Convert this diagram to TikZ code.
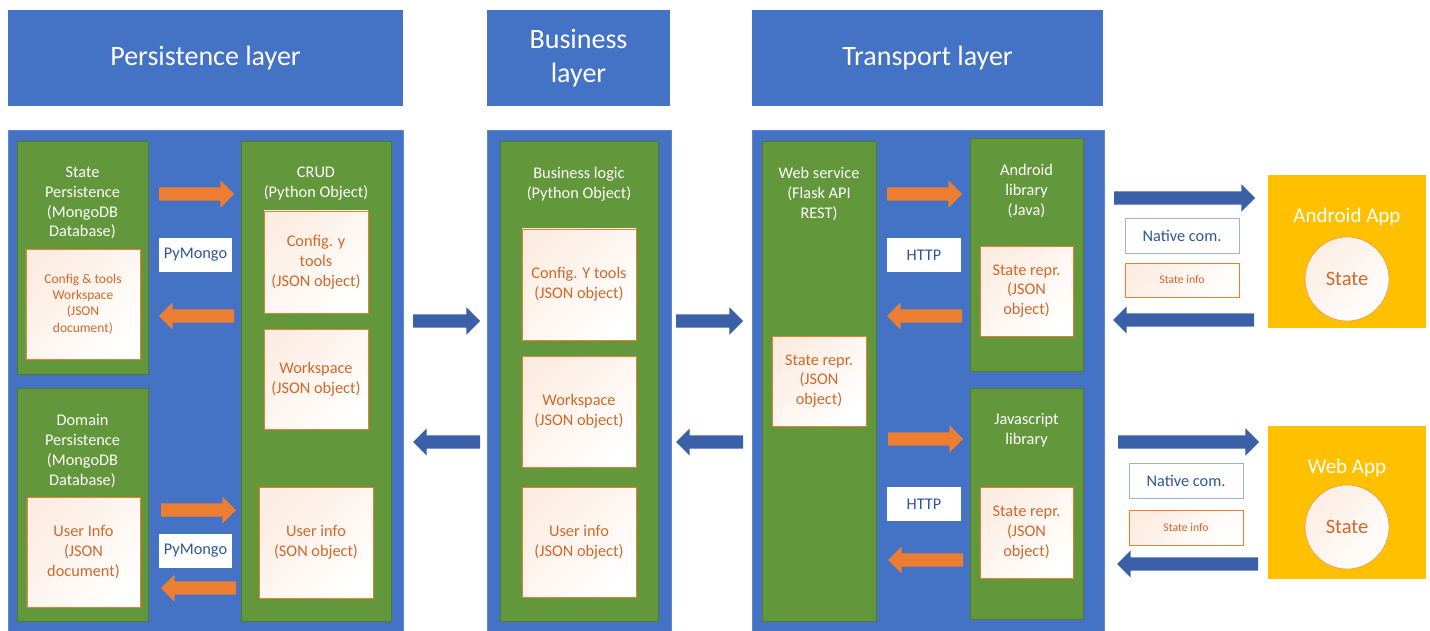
\documentclass[tikz,border=0pt]{standalone}
\usepackage{fontspec}
\setmainfont{Carlito}
\usepackage{tikz}
\usetikzlibrary{shapes,arrows.meta,positioning}
\definecolor{panelblue}{RGB}{68,114,196}
\definecolor{flowblue}{RGB}{60,96,168}
\definecolor{compgreen}{RGB}{98,151,59}
\definecolor{flowor}{RGB}{237,125,49}
\definecolor{dataor}{RGB}{208,104,42}
\definecolor{linkblue}{RGB}{47,85,151}
\definecolor{appyellow}{RGB}{255,192,0}
\newcommand{\fsz}[1]{\fontsize{#1bp}{1.22\dimexpr#1bp\relax}\selectfont}

\begin{document}
\begin{tikzpicture}[x=1bp, y=-1bp,
  every node/.style={inner sep=0pt, outer sep=0pt},
  header/.style={rectangle, fill=panelblue, minimum height=96bp, text=white, font=\fsz{28}, align=center},
  panel/.style={rectangle, fill=panelblue, draw=panelblue!85!white, minimum height=501bp},
  comp/.style={rectangle, fill=compgreen, draw=compgreen!80!black},
  ttl/.style={text=white, font=\fsz{16.3}, align=center},
  data/.style={rectangle, draw=flowor, top color=flowor!14, middle color=white, bottom color=white, shading angle=45, text=dataor, font=\fsz{16.3}, align=center},
  proto/.style={rectangle, fill=white, text=linkblue, font=\fsz{16.3}, minimum width=74bp, minimum height=34bp},
  oarrow/.style={single arrow, anchor=tail, fill=flowor, inner xsep=0pt, inner ysep=6.5bp, single arrow head extend=7bp, single arrow head indent=0pt, minimum width=27bp, minimum height=75bp},
  barrow/.style={single arrow, anchor=tail, fill=flowblue, inner xsep=0pt, inner ysep=6.5bp, single arrow head extend=7bp, single arrow head indent=0pt, minimum width=27bp, minimum height=67bp},
  back/.style={shape border rotate=180},
  app/.style={rectangle, fill=appyellow, minimum width=158bp, minimum height=153bp},
  statecirc/.style={circle, draw=flowor, top color=flowor!14, middle color=white, bottom color=white, shading angle=45, minimum size=84bp, text=dataor, font=\fsz{20.5}}]
\useasboundingbox (0,0) rectangle (1430,631);

% Layer headers
\node[header, minimum width=395bp] (hpers) at (205.5,58) {Persistence layer};
\node[header, minimum width=183bp] (hbus) at (578.5,58) {Business\\layer};
\node[header, minimum width=351bp] (htrans) at (927.5,58) {Transport layer};

% Layer panels
\node[panel, minimum width=395bp] (ppers) at (205.5,380.5) {};
\node[panel, minimum width=184bp] (pbus) at (579,380.5) {};
\node[panel, minimum width=352bp] (ptrans) at (928,380.5) {};

% Persistence layer
\node[comp, minimum width=131bp, minimum height=233bp] (statep) at (82.5,257.5) {};
\node[ttl] (statept) at (82.5,203) {State\\Persistence\\(MongoDB\\Database)};
\node[data, font=\fsz{13.5}, minimum width=114bp, minimum height=110bp] (cfgws) at (83,304) {Config \& tools\\Workspace\\(JSON\\document)};
\node[comp, minimum width=131bp, minimum height=233bp] (domainp) at (82.5,504.5) {};
\node[ttl] (domainpt) at (82.5,451) {Domain\\Persistence\\(MongoDB\\Database)};
\node[data, minimum width=113bp, minimum height=110bp] (userdoc) at (83.5,552) {User Info\\(JSON\\document)};
\node[comp, minimum width=150bp, minimum height=480bp] (crud) at (316,381) {};
\node[ttl] (crudt) at (316,184) {CRUD\\(Python Object)};
\node[data, minimum width=104bp, minimum height=102bp] (cfgtools) at (316,262) {Config. y\\tools\\(JSON object)};
\node[data, minimum width=104bp, minimum height=100bp] (crudws) at (316,379) {Workspace\\(JSON object)};
\node[data, minimum width=114bp, minimum height=111bp] (crudusr) at (316,542.5) {User info\\(SON object)};
\node[proto, minimum width=73bp] (pymongoa) at (195.5,255) {PyMongo};
\node[proto, minimum width=73bp] (pymongob) at (195.5,550.5) {PyMongo};
\node[oarrow] (sta) at (159,194) {};
\node[oarrow, back] (stb) at (234,316) {};
\node[oarrow] (doa) at (161,510) {};
\node[oarrow, back] (dob) at (236,588) {};

% Business layer
\node[comp, minimum width=158bp, minimum height=480bp] (blogic) at (579,381) {};
\node[ttl] (blogict) at (579,184) {Business logic\\(Python Object)};
\node[data, minimum width=114bp, minimum height=111bp] (bcfg) at (579,284.5) {Config. Y tools\\(JSON object)};
\node[data, minimum width=114bp, minimum height=111bp] (bws) at (579,411.5) {Workspace\\(JSON object)};
\node[data, minimum width=114bp, minimum height=110bp] (busr) at (579,542) {User info\\(JSON object)};
\node[barrow] (pba) at (413,321) {};
\node[barrow, back] (pbb) at (480,442) {};
\node[barrow] (bta) at (676,321) {};
\node[barrow, back] (btb) at (743,442) {};

% Transport layer
\node[comp, minimum width=114bp, minimum height=480bp] (websvc) at (819,381) {};
\node[ttl] (websvct) at (819,194) {Web service\\(Flask API\\REST)};
\node[data, minimum width=94bp, minimum height=90bp] (wsstate) at (819,381) {State repr.\\(JSON\\object)};
\node[comp, minimum width=113bp, minimum height=233bp] (andlib) at (1026.5,254.5) {};
\node[ttl] (andlibt) at (1026.5,191) {Android\\library\\(Java)};
\node[data, minimum width=93bp, minimum height=90bp] (andstate) at (1026.5,291) {State repr.\\(JSON\\object)};
\node[comp, minimum width=113bp, minimum height=231bp] (jslib) at (1026.5,503.5) {};
\node[ttl] (jslibt) at (1026.5,430.5) {Javascript\\library};
\node[data, minimum width=93bp, minimum height=91bp] (jsstate) at (1026.5,532.5) {State repr.\\(JSON\\object)};
\node[proto] (httpa) at (924,255) {HTTP};
\node[proto] (httpb) at (924,504) {HTTP};
\node[oarrow] (waa) at (887,194) {};
\node[oarrow, back] (wab) at (962,316) {};
\node[oarrow] (wja) at (888,439) {};
\node[oarrow, back] (wjb) at (963,560) {};

% Client apps
\node[app] (andapp) at (1347,251.5) {};
\node[text=white, font=\fsz{21}] (andappt) at (1347,217) {Android App};
\node[statecirc] (andst) at (1347,279) {State};
\node[app] (webapp) at (1347,502.5) {};
\node[text=white, font=\fsz{21}] (webappt) at (1347,468) {Web App};
\node[statecirc] (webst) at (1347,527) {State};
\node[proto, draw=linkblue!45, minimum width=114bp, minimum height=35bp] (nata) at (1182,235.5) {Native com.};
\node[data, font=\fsz{11.7}, minimum width=114bp, minimum height=34bp] (infoa) at (1182,280) {State info};
\node[proto, draw=linkblue!45, minimum width=114bp, minimum height=35bp] (natb) at (1186,480.5) {Native com.};
\node[data, font=\fsz{11.7}, minimum width=114bp, minimum height=35bp] (infob) at (1186,527.5) {State info};
\node[barrow, minimum height=141bp] (aaa) at (1114,198) {};
\node[barrow, back, minimum height=141bp] (aab) at (1254,320) {};
\node[barrow, minimum height=141bp] (waa2) at (1118,442) {};
\node[barrow, back, minimum height=141bp] (wab2) at (1258,564) {};
\end{tikzpicture}
\end{document}
